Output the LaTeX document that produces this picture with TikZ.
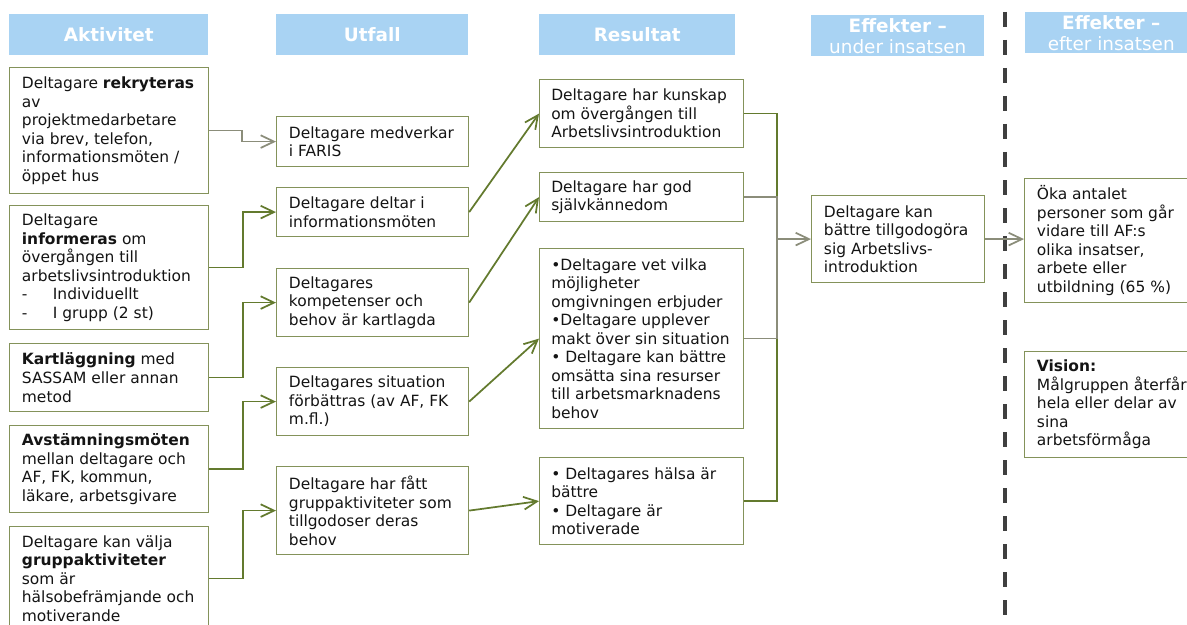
\documentclass[tikz,border=0pt]{standalone}
\usepackage{fontspec}
\setmainfont{DejaVu Sans}
\usetikzlibrary{arrows.meta}
\definecolor{hdrfill}{HTML}{A9D3F3}
\definecolor{boxline}{HTML}{84925A}
\definecolor{lkgreen}{HTML}{637A2E}
\definecolor{lkgrey}{HTML}{8B8D7A}
\definecolor{txtc}{HTML}{141414}
\definecolor{divider}{HTML}{3F3F3F}

\begin{document}
\begin{tikzpicture}[x=0.75pt,y=-0.75pt,
  hdr/.style={fill=hdrfill, draw=none, inner sep=0pt, anchor=north west, text=white,
    align=center, font=\fontsize{13.8pt}{15.75pt}\selectfont},
  box/.style={draw=boxline, line width=0.9pt, fill=white, inner sep=0pt, anchor=north west},
  txt/.style={align=left, inner sep=0pt, anchor=west, text=txtc,
    font=\fontsize{11.6pt}{13.9pt}\selectfont},
  lk/.style={draw=lkgreen, line width=1.3pt},
  lkg/.style={draw=lkgrey, line width=1.3pt},
  arr/.style={-{Straight Barb[length=10pt,width=9.5pt]}},
]
\clip (0,0) rectangle (1187,624);
\fill[white] (0,0) rectangle (1187,624);

% column headers
\node[hdr, minimum width=149.25pt, minimum height=30.75pt] (h1) at (9,14) {\textbf{Aktivitet}};
\node[hdr, minimum width=144pt, minimum height=30.75pt] (h2) at (276,14) {\textbf{Utfall}};
\node[hdr, minimum width=147pt, minimum height=30.75pt] (h3) at (539,14) {\textbf{Resultat}};
\node[hdr, minimum width=129.75pt, minimum height=30.75pt] (h4) at (811,15) {\textbf{Effekter –}\\under insatsen};
\node[hdr, minimum width=129pt, minimum height=30.75pt] (h5) at (1025,12) {\textbf{Effekter –}\\efter insatsen};

% divider between the two effect phases
\draw[divider, line width=3pt, dash pattern=on 11.25pt off 9.75pt] (1005,12) -- (1005,630);

% activities
\node[box, minimum width=149.25pt, minimum height=94.5pt] (a1) at (9,67) {};
\node[txt] (a1t) at ([xshift=9.5pt]a1.west) {Deltagare \textbf{rekryteras}\\av\\projektmedarbetare\\via brev, telefon,\\informationsmöten /\\öppet hus};
\node[box, minimum width=149.25pt, minimum height=93pt] (a2) at (9,205) {};
\node[txt] (a2t) at ([xshift=9.5pt]a2.west) {Deltagare\\\textbf{informeras} om\\övergången till\\arbetslivsintroduktion\\\makebox[23.25pt][l]{-}Individuellt\\\makebox[23.25pt][l]{-}I grupp (2 st)};
\node[box, minimum width=149.25pt, minimum height=51pt] (a3) at (9,343) {};
\node[txt] (a3t) at ([xshift=9.5pt]a3.west) {\textbf{Kartläggning} med\\SASSAM eller annan\\metod};
\node[box, minimum width=149.25pt, minimum height=65.25pt] (a4) at (9,425) {};
\node[txt] (a4t) at ([xshift=9.5pt]a4.west) {\textbf{Avstämningsmöten}\\mellan deltagare och\\AF, FK, kommun,\\läkare, arbetsgivare};
\node[box, minimum width=149.25pt, minimum height=78pt] (a5) at (9,526) {};
\node[txt] (a5t) at ([xshift=9.5pt]a5.west) {Deltagare kan välja\\\textbf{gruppaktiviteter}\\som är\\hälsobefrämjande och\\motiverande};

% outcomes
\node[box, minimum width=144pt, minimum height=37.5pt] (u1) at (276,116) {};
\node[txt] (u1t) at ([xshift=9.5pt]u1.west) {Deltagare medverkar\\i FARIS};
\node[box, minimum width=144pt, minimum height=36.75pt] (u2) at (276,187) {};
\node[txt] (u2t) at ([xshift=9.5pt]u2.west) {Deltagare deltar i\\informationsmöten};
\node[box, minimum width=144pt, minimum height=51pt] (u3) at (276,268) {};
\node[txt] (u3t) at ([xshift=9.5pt]u3.west) {Deltagares\\kompetenser och\\behov är kartlagda};
\node[box, minimum width=144pt, minimum height=51pt] (u4) at (276,367) {};
\node[txt] (u4t) at ([xshift=9.5pt]u4.west) {Deltagares situation\\förbättras (av AF, FK\\m.fl.)};
\node[box, minimum width=144pt, minimum height=66pt] (u5) at (276,466) {};
\node[txt] (u5t) at ([xshift=9.5pt]u5.west) {Deltagare har fått\\gruppaktiviteter som\\tillgodoser deras\\behov};

% results
\node[box, minimum width=153pt, minimum height=51pt] (r1) at (539,79) {};
\node[txt] (r1t) at ([xshift=9pt]r1.west) {Deltagare har kunskap\\om övergången till\\Arbetslivsintroduktion};
\node[box, minimum width=153pt, minimum height=36.75pt] (r2) at (539,172) {};
\node[txt] (r2t) at ([xshift=9pt]r2.west) {Deltagare har god\\självkännedom};
\node[box, minimum width=153pt, minimum height=135pt] (r3) at (539,248) {};
\node[txt] (r3t) at ([xshift=9pt]r3.west) {•Deltagare vet vilka\\möjligheter\\omgivningen erbjuder\\•Deltagare upplever\\makt över sin situation\\• Deltagare kan bättre\\omsätta sina resurser\\till arbetsmarknadens\\behov};
\node[box, minimum width=153pt, minimum height=65.25pt] (r4) at (539,457) {};
\node[txt] (r4t) at ([xshift=9pt]r4.west) {• Deltagares hälsa är\\bättre\\• Deltagare är\\motiverade};

% effects during and after
\node[box, minimum width=129.75pt, minimum height=65.25pt] (eu) at (811,195) {};
\node[txt] (eut) at ([xshift=9.5pt]eu.west) {Deltagare kan\\bättre tillgodogöra\\sig Arbetslivs-\\introduktion};
\node[box, minimum width=128.25pt, minimum height=93pt] (ef1) at (1024,178) {};
\node[txt] (ef1t) at ([xshift=9.5pt]ef1.west) {Öka antalet\\personer som går\\vidare till AF:s\\olika insatser,\\arbete eller\\utbildning (65 \%)};
\node[box, minimum width=128.25pt, minimum height=79.5pt] (vis) at (1024,351) {};
\node[txt] (vist) at ([xshift=9.5pt]vis.west) {\textbf{Vision:}\\Målgruppen återfår\\hela eller delar av\\sina\\arbetsförmåga};

% activity -> outcome
\draw[lkg,arr] (a1.east) -- ++(33,0) |- (u1.west);
\draw[lk,arr] (a2.east) -- ++(34,0) |- (u2.west);
\draw[lk,arr] (a3.east) -- ++(34,0) |- (u3.west);
\draw[lk,arr] (a4.east) -- ++(34,0) |- (u4.west);
\draw[lk,arr] (a5.east) -- ++(34,0) |- (u5.west);

% outcome -> result
\draw[lk,arr] (u2.east) -- (r1.west);
\draw[lk,arr] (u3.east) -- (r2.west);
\draw[lk,arr] (u4.east) -- (r3.west);
\draw[lk,arr] (u5.east) -- (r4.west);

% results collected on one bus
\coordinate (bus) at (777,0);
\draw[lk] (r1.east) -| (r2.east -| bus);
\draw[lkg] (r2.east) -- (r2.east -| bus) -- (r3.east -| bus) -- (r3.east);
\draw[lk] (r3.east -| bus) |- (r4.east);
\draw[lkg,arr] (eu.west -| bus) -- (eu.west);
\draw[lkg,arr] (eu.east) -- (eu.east -| ef1.west);
\end{tikzpicture}
\end{document}
